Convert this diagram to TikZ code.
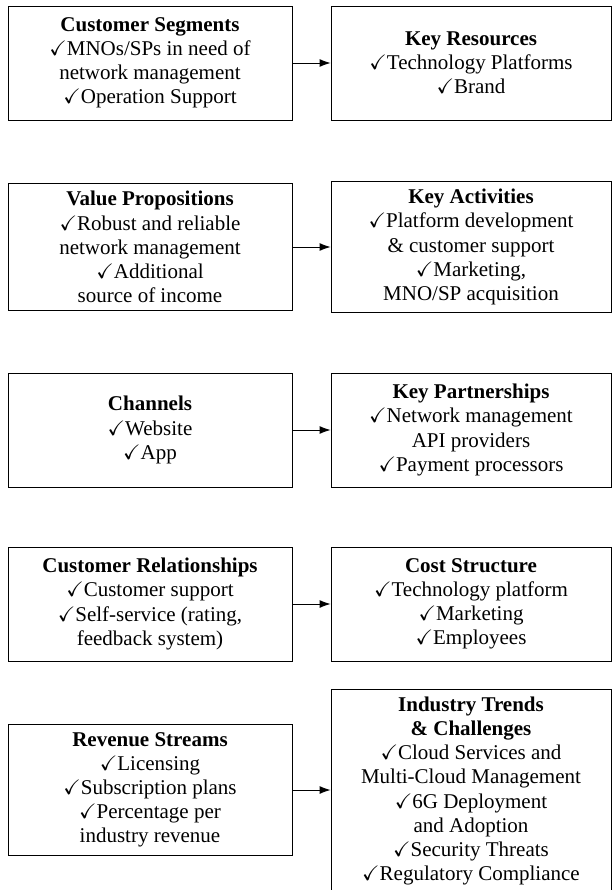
\documentclass[tikz,border=0pt]{standalone}
\usepackage{fontspec}
\setmainfont{Liberation Serif}
\usepackage{amssymb}
\usetikzlibrary{arrows.meta}
\newcommand{\ck}{$\checkmark$}

\begin{document}
\begin{tikzpicture}[x=1pt, y=-1pt,
	leftbox/.style={draw, line width=0.9pt, minimum width=284pt, minimum height=114pt,
		inner sep=8pt, align=center, font=\fontsize{21}{24.1}\selectfont},
	rightbox/.style={leftbox, minimum width=280pt},
	link/.style={-{Latex[length=11pt, width=8pt]}, line width=0.9pt}]
	\useasboundingbox (0, 0) rectangle (612, 890);

		\node[leftbox] (cs) at (150, 63){\textbf{Customer Segments}\\ \ck MNOs/SPs in need of\\ network management\\ \ck Operation Support};
		\node[rightbox] (kr) at (471, 63){\textbf{Key Resources}\\ \ck Technology Platforms\\ \ck Brand};
		\draw[link] (cs) -- (kr);

		\node[leftbox] (vp) at (150, 247){\textbf{Value Propositions}\\ \ck Robust and reliable\\ network management\\ \ck Additional\\ source of income};
		\node[rightbox] (ka) at (471, 247){\textbf{Key Activities}\\ \ck Platform development\\ \& customer support\\ \ck Marketing,\\ MNO/SP acquisition};
		\draw[link] (vp) -- (ka);

		\node[leftbox] (ch) at (150, 430){\textbf{Channels}\\ \ck Website\\ \ck App};
		\node[rightbox] (kp) at (471, 430){\textbf{Key Partnerships}\\ \ck Network management\\ API providers\\ \ck Payment processors};
		\draw[link] (ch) -- (kp);

		\node[leftbox] (cr) at (150, 604){\textbf{Customer Relationships}\\ \ck Customer support\\ \ck Self-service (rating,\\ feedback system)};
		\node[rightbox] (cost) at (471, 604){\textbf{Cost Structure}\\ \ck Technology platform\\ \ck Marketing\\ \ck Employees};
		\draw[link] (cr) -- (cost);

		\node[leftbox] (rs) at (150, 790){\textbf{Revenue Streams}\\ \ck Licensing\\ \ck Subscription plans\\ \ck Percentage per\\ industry revenue};
		\node[rightbox] (it) at (471, 791){\textbf{Industry Trends}\\ \textbf{\& Challenges}\\ \ck Cloud Services and\\ Multi-Cloud Management\\ \ck 6G Deployment\\ and Adoption\\ \ck Security Threats\\ \ck Regulatory Compliance};
		\draw[link] (rs) -- (rs -| it.west);
\end{tikzpicture}
\end{document}
